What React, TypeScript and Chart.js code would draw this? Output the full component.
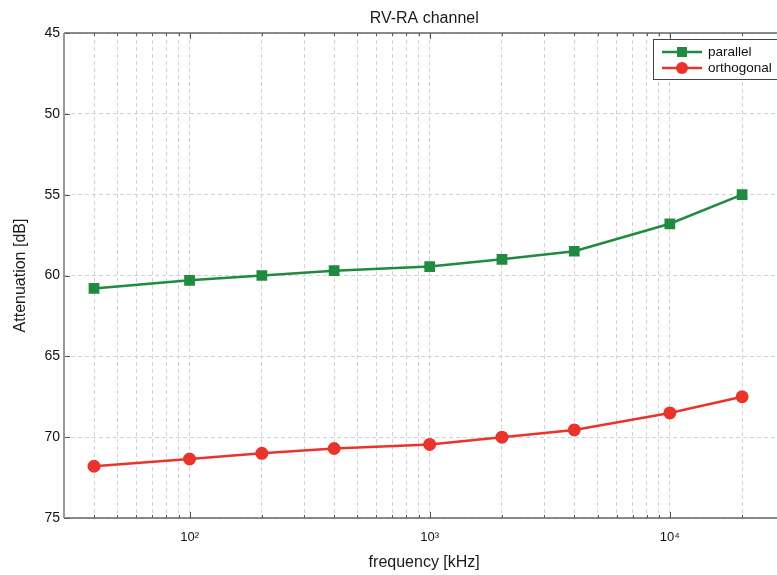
import React, { useEffect, useRef } from 'react';
import { Chart, registerables } from 'chart.js';

Chart.register(...registerables);

const frequencies = [40, 100, 200, 400, 1000, 2000, 4000, 10000, 20000];
const parallel = [60.8, 60.3, 60.0, 59.7, 59.45, 59.0, 58.5, 56.8, 55.0];
const orthogonal = [71.8, 71.35, 71.0, 70.7, 70.45, 70.0, 69.55, 68.5, 67.5];
const yTicks = [45, 50, 55, 60, 65, 70, 75];
const xMajorTicks = [100, 1000, 10000];
const xMajorLabels = ['10²', '10³', '10⁴'];
const xGridTicks = [
  40, 50, 60, 70, 80, 90, 100,
  200, 300, 400, 500, 600, 700, 800, 900, 1000,
  2000, 3000, 4000, 5000, 6000, 7000, 8000, 9000, 10000,
  20000,
];
const seriesNames = ['parallel', 'orthogonal'];
const GREEN = '#1f8a40';
const RED = '#e8342b';
const FONT = '"Liberation Sans", Arial, sans-serif';

const framePlugin = {
  id: 'frame',
  beforeDatasetsDraw(chart: any) {
    const { ctx, chartArea } = chart;
    const { left, right, top, bottom } = chartArea;
    ctx.save();
    ctx.strokeStyle = '#555';
    ctx.lineWidth = 1;
    const ys = chart.scales.y;
    yTicks.forEach((v) => {
      const py = Math.round(ys.getPixelForValue(v)) + 0.5;
      ctx.beginPath();
      ctx.moveTo(left, py);
      ctx.lineTo(left + 6, py);
      ctx.stroke();
    });
    const xs = chart.scales.x;
    xGridTicks.forEach((v) => {
      const px = Math.round(xs.getPixelForValue(v)) + 0.5;
      const len = xMajorTicks.includes(v) ? 6 : 3;
      ctx.beginPath();
      ctx.moveTo(px, bottom);
      ctx.lineTo(px, bottom - len);
      ctx.moveTo(px, top);
      ctx.lineTo(px, top + len);
      ctx.stroke();
    });
    ctx.strokeStyle = '#666';
    ctx.lineWidth = 1.5;
    ctx.beginPath();
    ctx.moveTo(right, top);
    ctx.lineTo(left, top);
    ctx.stroke();
    ctx.beginPath();
    ctx.moveTo(left, bottom);
    ctx.lineTo(right, bottom);
    ctx.stroke();
    ctx.strokeStyle = '#999';
    ctx.lineWidth = 2;
    ctx.beginPath();
    ctx.moveTo(left, top);
    ctx.lineTo(left, bottom);
    ctx.stroke();
    ctx.restore();
  },
  afterDatasetsDraw(chart: any) {
    const { ctx } = chart;
    ctx.save();
    const bx = 653.5, by = 39.5, bw = 170, bh = 40;
    ctx.fillStyle = '#fff';
    ctx.fillRect(bx, by, bw, bh);
    ctx.strokeStyle = '#444';
    ctx.lineWidth = 1;
    ctx.strokeRect(bx, by, bw, bh);
    const rows = [
      { y: 52, color: GREEN, shape: 'rect', label: seriesNames[0] },
      { y: 68, color: RED, shape: 'circle', label: seriesNames[1] },
    ];
    rows.forEach((r) => {
      ctx.strokeStyle = r.color;
      ctx.fillStyle = r.color;
      ctx.lineWidth = 2.5;
      ctx.beginPath();
      ctx.moveTo(662, r.y);
      ctx.lineTo(702, r.y);
      ctx.stroke();
      ctx.beginPath();
      if (r.shape === 'rect') {
        ctx.rect(682 - 5, r.y - 5, 10, 10);
      } else {
        ctx.arc(682, r.y, 6, 0, Math.PI * 2);
      }
      ctx.fill();
      ctx.fillStyle = '#111';
      ctx.font = '13.5px ' + FONT;
      ctx.textBaseline = 'middle';
      ctx.textAlign = 'left';
      ctx.fillText(r.label, 708, r.y);
    });
    ctx.restore();
  },
};

export default function App() {
  const canvasRef = useRef<HTMLCanvasElement | null>(null);

  useEffect(() => {
    const canvas = canvasRef.current;
    if (!canvas) return;
    Chart.defaults.font.family = FONT;
    const chart = new Chart(canvas, {
      type: 'line',
      data: {
        datasets: [
          {
            label: seriesNames[0],
            data: frequencies.map((f, i) => ({ x: f, y: parallel[i] })),
            borderColor: GREEN,
            backgroundColor: GREEN,
            borderWidth: 2.5,
            pointStyle: 'rect',
            pointRadius: 7.6,
            pointBorderWidth: 0,
            pointBackgroundColor: GREEN,
            tension: 0,
          },
          {
            label: seriesNames[1],
            data: frequencies.map((f, i) => ({ x: f, y: orthogonal[i] })),
            borderColor: RED,
            backgroundColor: RED,
            borderWidth: 2.5,
            pointStyle: 'circle',
            pointRadius: 6.5,
            pointBorderWidth: 0,
            pointBackgroundColor: RED,
            tension: 0,
          },
        ],
      },
      options: {
        responsive: false,
        animation: false,
        layout: { padding: 0 },
        plugins: {
          legend: { display: false },
          tooltip: { enabled: false },
          title: {
            display: true,
            text: 'RV-RA channel',
            fullSize: false,
            color: '#1a1a1a',
            font: { size: 16, weight: 'normal', family: FONT },
            padding: { top: 9, bottom: 4.8 },
          },
        },
        scales: {
          x: {
            type: 'logarithmic',
            min: 30,
            max: 30000,
            afterBuildTicks: (s: any) => {
              s.ticks = xGridTicks.map((v) => ({ value: v }));
            },
            afterFit: (s: any) => {
              s.height = 57;
            },
            grid: { color: '#d2d2d2', lineWidth: 1, drawTicks: false },
            border: { display: false, dash: [4, 3] },
            ticks: {
              autoSkip: false,
              maxRotation: 0,
              padding: 12,
              color: '#111',
              font: { size: 13, family: FONT },
              callback: (v: any) => {
                const i = xMajorTicks.indexOf(Number(v));
                return i >= 0 ? xMajorLabels[i] : '';
              },
            },
            title: {
              display: true,
              text: 'frequency [kHz]',
              color: '#1a1a1a',
              font: { size: 16, family: FONT },
              padding: { top: 0, bottom: 3 },
            },
          },
          y: {
            type: 'linear',
            reverse: true,
            min: 45,
            max: 75,
            afterBuildTicks: (s: any) => {
              s.ticks = yTicks.map((v) => ({ value: v }));
            },
            afterFit: (s: any) => {
              s.width = 64;
            },
            grid: { color: '#d2d2d2', lineWidth: 1, drawTicks: false },
            border: { display: false, dash: [4, 3] },
            ticks: {
              padding: 4,
              color: '#111',
              font: { size: 14, family: FONT },
            },
            title: {
              display: true,
              text: 'Attenuation [dB]',
              color: '#1a1a1a',
              font: { size: 16, family: FONT },
              padding: { top: 11, bottom: 0 },
            },
          },
        },
      },
      plugins: [framePlugin],
    } as any);
    return () => chart.destroy();
  }, []);

  return (
    <div style={{ position: 'fixed', left: 0, top: 0, width: 777, height: 575, overflow: 'hidden', background: '#fff' }}>
      <canvas ref={canvasRef} width={792} height={575} style={{ display: 'block' }} />
    </div>
  );
}
